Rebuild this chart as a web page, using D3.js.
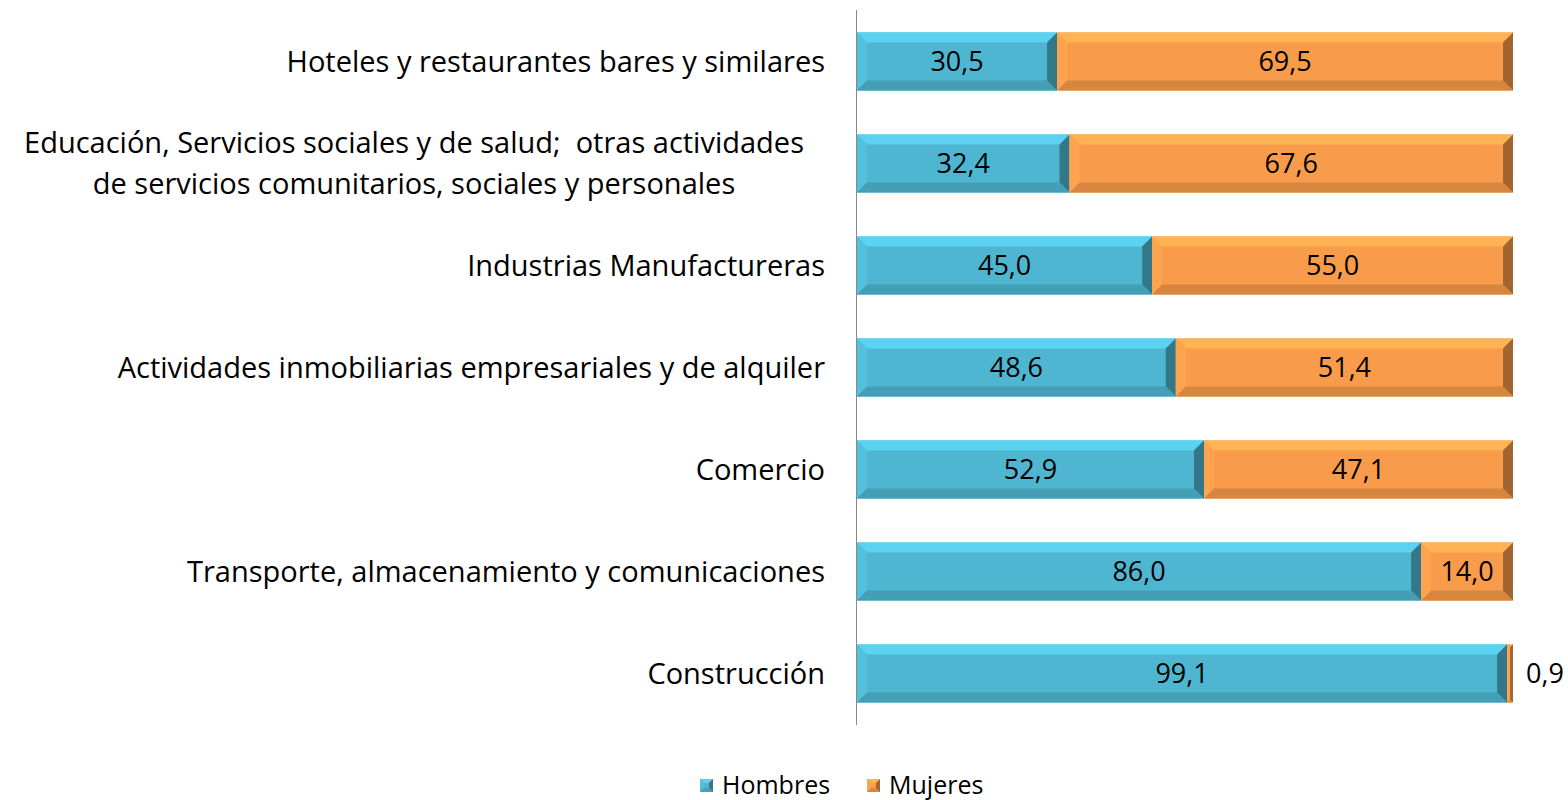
<!DOCTYPE html>
<html>
<head>
<meta charset="utf-8">
<script src="https://cdn.jsdelivr.net/npm/d3@7"></script>
<style>
  body { margin: 0; background: #fff; }
  text { font-family: "Open Sans", Lato, sans-serif; fill: #000; white-space: pre; }
</style>
</head>
<body>
<div id="chart"></div>
<script>
// data
const categories = [
  ["Hoteles y restaurantes bares y similares"],
  ["Educación, Servicios sociales y de salud;  otras actividades", "de servicios comunitarios, sociales y personales"],
  ["Industrias Manufactureras"],
  ["Actividades inmobiliarias empresariales y de alquiler"],
  ["Comercio"],
  ["Transporte, almacenamiento y comunicaciones"],
  ["Construcción"]
];
const hombres = [30.5, 32.4, 45.0, 48.6, 52.9, 86.0, 99.1];
const mujeres = [69.5, 67.6, 55.0, 51.4, 47.1, 14.0, 0.9];
const seriesNames = ["Hombres", "Mujeres"];
const colors = ["#4fb6d1", "#f89b4a"];

const width = 1568, height = 800;
const x0 = 857;

const svg = d3.select("#chart")
  .append("svg")
    .attr("width", width)
    .attr("height", height);

// scales
const xScale = d3.scaleLinear().domain([0, 100]).range([x0, 1513]);
const yScale = d3.scaleBand()
  .domain(d3.range(categories.length))
  .range([10, 725])
  .paddingInner(0.43)
  .paddingOuter(0.22);

const fmt = v => d3.format(".1f")(v).replace(".", ",");

// bevel drawing
function bevel(g, x, y, w, h, base, size) {
  const c = d3.color(base);
  const b = Math.min(size, w / 2);
  g.append("rect").attr("x", x).attr("y", y).attr("width", w).attr("height", h).attr("fill", base);
  const faces = [
    [[x, y], [x + w, y], [x + w - b, y + b], [x + b, y + b], c.brighter(0.4)],
    [[x, y], [x + b, y + b], [x + b, y + h - b], [x, y + h], c.brighter(0.15)],
    [[x + w, y], [x + w, y + h], [x + w - b, y + h - b], [x + w - b, y + b], c.darker(1.2)],
    [[x, y + h], [x + b, y + h - b], [x + w - b, y + h - b], [x + w, y + h], c.darker(0.4)]
  ];
  faces.forEach(f => {
    g.append("polygon")
      .attr("points", f.slice(0, 4).map(p => p.join(",")).join(" "))
      .attr("fill", f[4]);
  });
}

const stacks = categories.map((c, i) => [hombres[i], mujeres[i]]);

stacks.forEach((vals, i) => {
  let acc = 0;
  vals.forEach((v, s) => {
    const xa = xScale(acc), xb = xScale(acc + v);
    const g = svg.append("g");
    bevel(g, xa, yScale(i), xb - xa, yScale.bandwidth(), colors[s], 10);
    const inside = (xb - xa) > 40;
    svg.append("text")
      .attr("x", inside ? (xa + xb) / 2 : xb + 13)
      .attr("y", yScale(i) + yScale.bandwidth() / 2)
      .attr("dy", "0.36em")
      .attr("text-anchor", inside ? "middle" : "start")
      .attr("font-size", 27)
      .text(fmt(v));
    acc += v;
  });
});

// axis line
svg.append("line")
  .attr("x1", x0 - 0.5).attr("x2", x0 - 0.5)
  .attr("y1", 10).attr("y2", 725)
  .attr("stroke", "#888").attr("stroke-width", 1);

// category labels
categories.forEach((lines, i) => {
  const cy = yScale(i) + yScale.bandwidth() / 2;
  const t = svg.append("text")
    .attr("font-size", 29)
    .attr("text-anchor", lines.length > 1 ? "middle" : "end");
  lines.forEach((l, k) => {
    t.append("tspan")
      .attr("x", lines.length > 1 ? 414 : 825)
      .attr("y", cy + (k - (lines.length - 1) / 2) * 41)
      .attr("dy", "0.36em")
      .text(l);
  });
});

// legend
const legendX = [700, 867];
seriesNames.forEach((n, s) => {
  const g = svg.append("g");
  bevel(g, legendX[s], 779, 13, 13, colors[s], 4);
  svg.append("text")
    .attr("x", legendX[s] + 22)
    .attr("y", 785)
    .attr("dy", "0.36em")
    .attr("font-size", 25)
    .text(n);
});
</script>
</body>
</html>
